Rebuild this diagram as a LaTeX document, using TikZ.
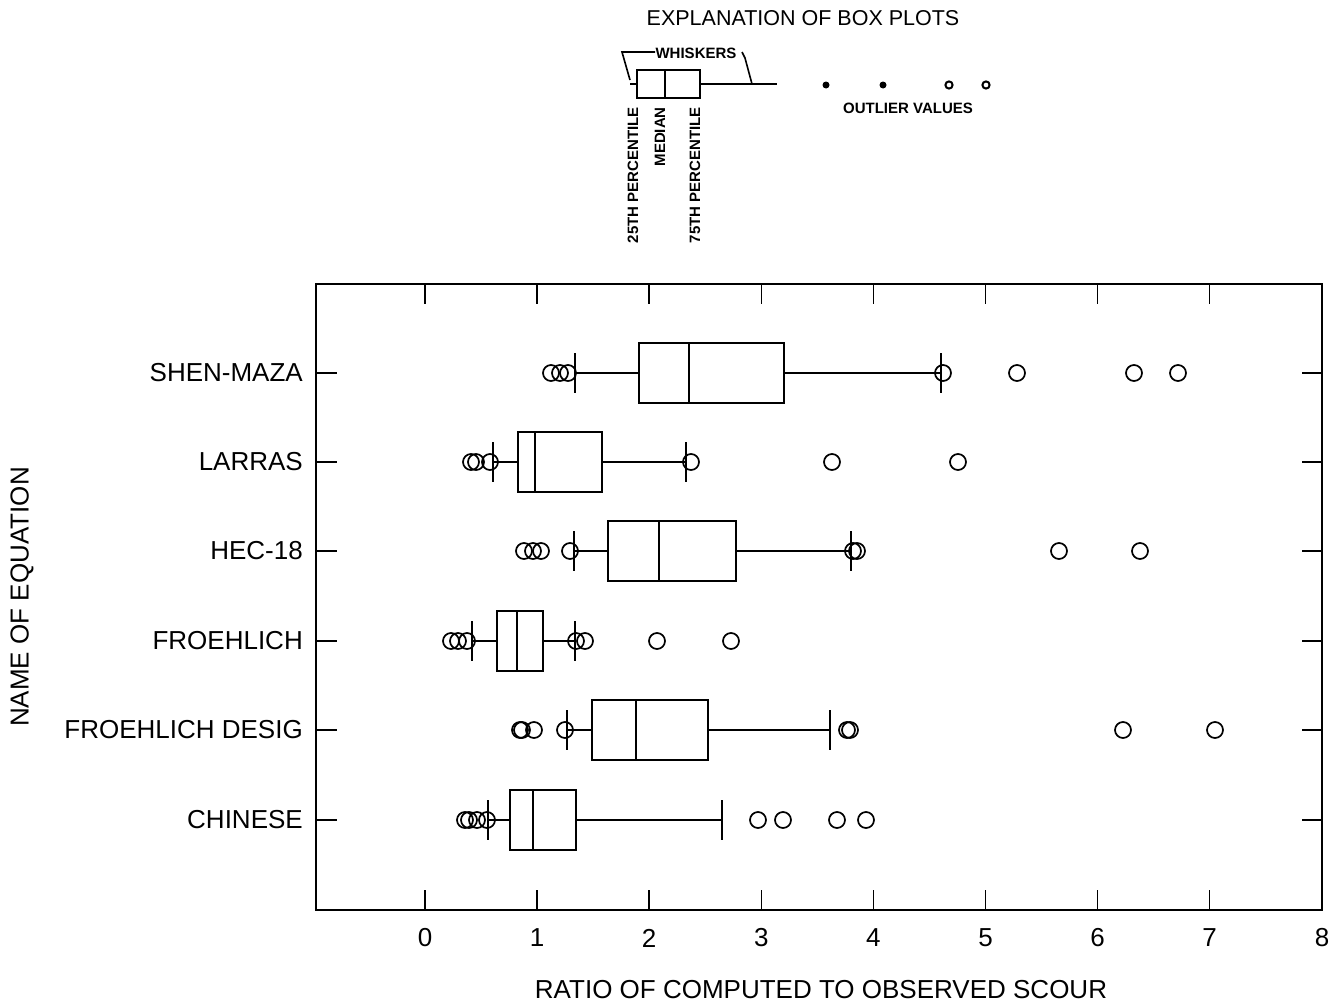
\documentclass[tikz,border=0pt]{standalone}
\usepackage{fontspec}
\setmainfont{Liberation Sans}
\newcommand\bxrow[6]{%
  \draw[bxline] (#2,#1-20)--(#2,#1+20);
  \draw[bxline] (#2,#1)--(#3,#1);
  \draw[bxline] (#3,#1-30) rectangle (#5,#1+30);
  \draw[bxline] (#4,#1-30)--(#4,#1+30);
  \draw[bxline] (#5,#1)--(#6,#1);
  \draw[bxline] (#6,#1-20)--(#6,#1+20);}
\begin{document}
\begin{tikzpicture}[x=1pt,y=-1pt,
  bxline/.style={line width=1.6pt},
  outl/.style={line width=1.7pt},
  lab/.style={font=\fontsize{26}{30}\selectfont, inner sep=0pt},
  leg/.style={font=\bfseries\fontsize{15}{18}\selectfont, inner sep=0pt}]
\useasboundingbox (0,0) rectangle (1339,1004);
\fill[white] (0,0) rectangle (1339,1004);
% frame
\draw[line width=1.8pt] (316,284) rectangle (1322,910);
\foreach \k in {0,...,7} {
  \pgfmathsetmacro\xx{425+112.1*\k}
  \draw[line width=1.5pt] (\xx,284)--(\xx,304);
  \draw[line width=1.5pt] (\xx,910)--(\xx,890);
  \node[lab] at (\xx,938) {\k};
}
\node[lab] at (1322,938) {8};
\foreach \yy/\nm in {373/SHEN-MAZA,462/LARRAS,551/HEC-18,641/FROEHLICH,730/FROEHLICH DESIG,820/CHINESE} {
  \draw[line width=1.5pt] (316,\yy)--(337,\yy);
  \draw[line width=1.5pt] (1322,\yy)--(1302,\yy);
  \node[lab,anchor=east] at (303,\yy) {\nm};
}
% boxes
\bxrow{373}{575}{639}{689}{784}{941}
\foreach \cx in {551,560,568,943,1017,1134,1178} \draw[outl] (\cx,373) circle[radius=8];
\bxrow{462}{493}{518}{535}{602}{686}
\foreach \cx in {471,476,490,691,832,958} \draw[outl] (\cx,462) circle[radius=8];
\bxrow{551}{574}{608}{659}{736}{851}
\foreach \cx in {524,533,541,570,853,857,1059,1140} \draw[outl] (\cx,551) circle[radius=8];
\bxrow{641}{472}{497}{517}{543}{575}
\foreach \cx in {451,458,467,576,585,657,731} \draw[outl] (\cx,641) circle[radius=8];
\bxrow{730}{567}{592}{636}{708}{830}
\foreach \cx in {520,522,534,565,847,850,1123,1215} \draw[outl] (\cx,730) circle[radius=8];
\bxrow{820}{488}{510}{533}{576}{722}
\foreach \cx in {465,469,477,487,758,783,837,866} \draw[outl] (\cx,820) circle[radius=8];
% axis titles
\node[lab, rotate=90] at (22,597) {NAME OF EQUATION};
\node[lab] at (821,990) {RATIO OF COMPUTED TO OBSERVED SCOUR};
% legend
\node[font=\fontsize{21.5}{24}\selectfont, inner sep=0pt] at (803,18) {EXPLANATION OF BOX PLOTS};
\draw[line width=2pt] (637,70) rectangle (700,98);
\draw[line width=2pt] (665,70)--(665,98);
\draw[line width=2pt] (630,84)--(637,84);
\draw[line width=2pt] (700,84)--(777,84);
\fill (826,85) circle[radius=3.5];
\fill (883,85) circle[radius=3.5];
\draw[line width=2pt] (949,85) circle[radius=3.6];
\draw[line width=2pt] (986,85) circle[radius=3.6];
\draw[line width=1.6pt] (655,52)--(622,52)--(630,80);
\node[leg] at (696,53) {WHISKERS};
\draw[line width=1.6pt] (742,52)--(745,58)--(752,84);
\node[leg] at (908,108) {OUTLIER VALUES};
\node[leg, rotate=90, anchor=east] at (633,107) {25TH PERCENTILE};
\node[leg, rotate=90, anchor=east] at (660,107) {MEDIAN};
\node[leg, rotate=90, anchor=east] at (695,107) {75TH PERCENTILE};
\end{tikzpicture}
\end{document}
